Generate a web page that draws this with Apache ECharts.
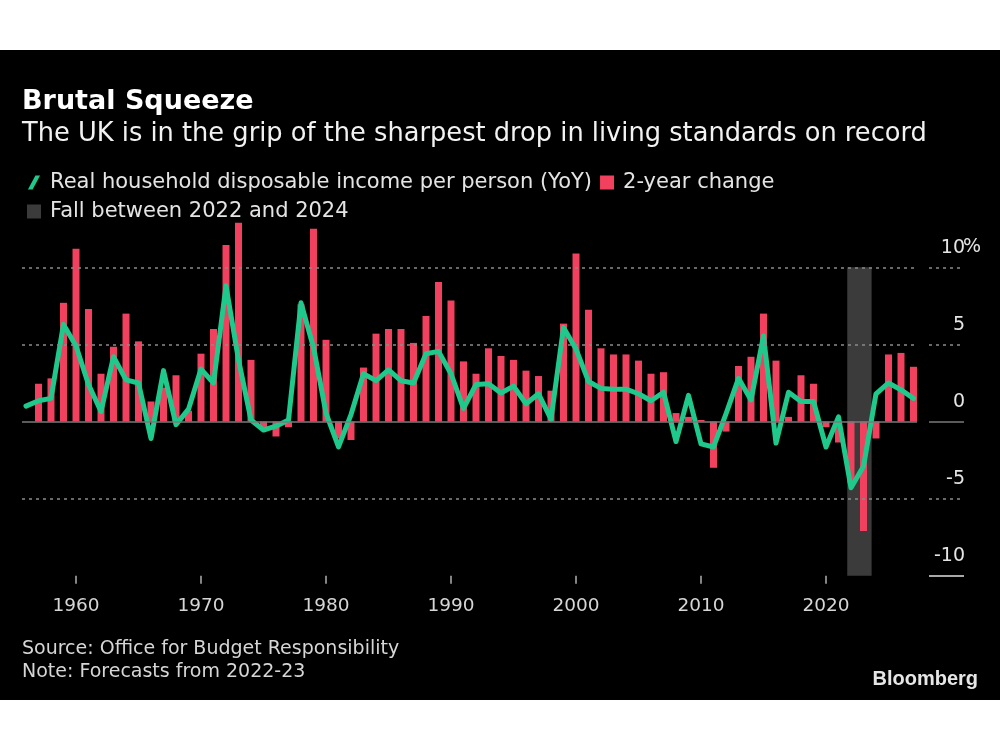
<!DOCTYPE html>
<html>
<head>
<meta charset="utf-8">
<script src="https://cdn.jsdelivr.net/npm/echarts@6/dist/echarts.min.js"></script>
<style>
html,body{margin:0;padding:0;background:#fff;}
#bg{position:absolute;left:0;top:50px;width:1000px;height:650px;background:#000;}
#chart{position:absolute;left:0;top:0;width:1000px;height:750px;}
</style>
</head>
<body>
<div id="bg"></div>
<div id="chart"></div>
<script>
// ---- data ----
const lineYears = [1956,1957,1958,1959,1960,1961,1962,1963,1964,1965,1966,1967,1968,1969,1970,1971,1972,1973,1974,1975,1976,1977,1978,1979,1980,1981,1982,1983,1984,1985,1986,1987,1988,1989,1990,1991,1992,1993,1994,1995,1996,1997,1998,1999,2000,2001,2002,2003,2004,2005,2006,2007,2008,2009,2010,2011,2012,2013,2014,2015,2016,2017,2018,2019,2020,2021,2022,2023,2024,2025,2026,2027];
const yoyValues = [1.0,1.35,1.5,6.3,4.9,2.4,0.65,4.2,2.7,2.5,-1.1,3.3,-0.2,0.8,3.4,2.5,8.8,4.0,0.1,-0.55,-0.3,0.1,7.7,4.8,0.55,-1.65,0.45,3.1,2.65,3.35,2.65,2.5,4.4,4.55,3.1,0.85,2.4,2.45,1.85,2.3,1.15,1.8,0.15,6.1,4.7,2.6,2.15,2.1,2.1,1.8,1.35,1.9,-1.3,1.7,-1.45,-1.65,0.5,2.8,1.4,5.55,-1.4,1.9,1.3,1.3,-1.65,0.3,-4.3,-2.9,1.8,2.5,2.05,1.5];
const barYears = [1957,1958,1959,1960,1961,1962,1963,1964,1965,1966,1967,1968,1969,1970,1971,1972,1973,1974,1975,1976,1977,1978,1979,1980,1981,1982,1983,1984,1985,1986,1987,1988,1989,1990,1991,1992,1993,1994,1995,1996,1997,1998,1999,2000,2001,2002,2003,2004,2005,2006,2007,2008,2009,2010,2011,2012,2013,2014,2015,2016,2017,2018,2019,2020,2021,2022,2023,2024,2025,2026,2027];
const twoYearValues = [2.45,2.8,7.7,11.2,7.3,3.1,4.85,7.0,5.2,1.3,2.2,3.0,0.7,4.4,6.0,11.45,12.9,4.0,-0.4,-0.97,-0.37,7.6,12.5,5.3,-1.1,-1.2,3.5,5.7,6.0,6.0,5.1,6.85,9.05,7.85,3.9,3.1,4.75,4.25,4.0,3.3,2.95,2.0,6.35,10.9,7.25,4.75,4.35,4.35,3.95,3.1,3.2,0.55,0.3,0.1,-3.0,-0.65,3.6,4.2,7.0,3.95,0.3,3.0,2.45,-0.37,-1.36,-4.0,-7.1,-1.1,4.35,4.45,3.55];
const xTickYears = [1960,1970,1980,1990,2000,2010,2020];
const yTickValues = [-10,-5,0,5,10];
const bandRange = [2021.7, 2023.65];
const bandValueRange = [-10, 10];

// ---- layout / axis extents ----
const X_MIN = 1955.68, PLOT_END = 2027.28, LABEL_START = 2028.24, X_MAX = 2031.04;
const FONT = '"DejaVu Sans", "Noto Sans", sans-serif';
const GREEN = '#1fc98c', RED = '#f2415f', BAND = '#3b3b3b';

const lineData = lineYears.map((y, i) => [y, yoyValues[i]]);
const barData = barYears.map((y, i) => [y, twoYearValues[i]]);

function seg(x1, x2, y, style) {
  return [{coord: [x1, y], lineStyle: style}, {coord: [x2, y]}];
}
const dashed = {color: '#8a8a8a', width: 1.5, type: [3, 4]};
const zeroStyle = {color: '#7a7a7a', width: 1.5, type: 'solid'};
const gridLines = [];
yTickValues.forEach(v => {
  if (v === -10) {
    gridLines.push(seg(LABEL_START, X_MAX, v, {color: '#e0e0e0', width: 1.5, type: 'solid'}));
  } else {
    const st = v === 0 ? zeroStyle : dashed;
    gridLines.push(seg(X_MIN, PLOT_END, v, st));
    gridLines.push(seg(LABEL_START, X_MAX, v, st));
  }
});

const chart = echarts.init(document.getElementById('chart'), null, {renderer: 'canvas'});
chart.setOption({
  backgroundColor: 'transparent',
  animation: false,
  textStyle: {fontFamily: FONT},
  title: [
    {text: 'Brutal Squeeze', left: 22, top: 88, padding: 0,
     textStyle: {color: '#ffffff', fontSize: 27, fontWeight: 'bold', fontFamily: FONT}},
    {text: 'The UK is in the grip of the sharpest drop in living standards on record', left: 22, top: 121, padding: 0,
     textStyle: {color: '#f2f2f2', fontSize: 25.7, fontWeight: 'normal', fontFamily: FONT}},
    {text: 'Source: Office for Budget Responsibility\nNote: Forecasts from 2022-23', left: 22, top: 638, padding: 0,
     textStyle: {color: '#d6d6d6', fontSize: 19, lineHeight: 23, fontWeight: 'normal', fontFamily: FONT}},
    {text: 'Bloomberg', right: 22, top: 669, padding: 0,
     textStyle: {color: '#e6e6e6', fontSize: 20, fontWeight: 'bold', fontFamily: '"Liberation Sans", Arial, sans-serif'}}
  ],
  legend: {
    left: 22, top: 167, width: 840,
    itemWidth: 14, itemHeight: 14, itemGap: 8,
    selectedMode: false,
    textStyle: {color: '#e4e4e4', fontSize: 21, fontFamily: FONT, padding: [0, 3, 0, 4]},
    data: [
      {name: 'Real household disposable income per person (YoY)', icon: 'path://M0,15 L5,15 L13,0 L8,0 Z'},
      {name: '2-year change', icon: 'rect'},
      {name: 'Fall between 2022 and 2024', icon: 'rect'}
    ]
  },
  grid: {left: 22, right: 36, top: 221.1, bottom: 174.3, containLabel: false},
  xAxis: {
    type: 'value', min: X_MIN, max: X_MAX,
    axisLine: {show: false, onZero: false},
    splitLine: {show: false},
    axisTick: {show: true, length: 8, lineStyle: {color: '#b0b0b0', width: 1.5}, customValues: xTickYears},
    axisLabel: {show: true, color: '#d6d6d6', fontSize: 18.5, margin: 21, fontFamily: FONT, customValues: xTickYears,
      formatter: v => String(v)}
  },
  yAxis: {
    type: 'value', min: -10, max: 13, position: 'right',
    axisLine: {show: false}, axisTick: {show: false}, splitLine: {show: false},
    axisLabel: {show: true, customValues: yTickValues, color: '#e4e4e4', fontSize: 19, fontFamily: FONT,
      align: 'right', verticalAlign: 'bottom', margin: 1, padding: [0, 0, 10, 0],
      formatter: v => String(v)}
  },
  graphic: [
    {type: 'text', left: 963, top: 238, style: {text: '%', fill: '#e4e4e4', font: '19px "DejaVu Sans", sans-serif'}}
  ],
  series: [
    {
      name: 'Fall between 2022 and 2024', type: 'line', data: [], z: 1,
      color: BAND, itemStyle: {color: BAND},
      markArea: {silent: true, itemStyle: {color: BAND},
        data: [[{coord: [bandRange[0], bandValueRange[1]]}, {coord: [bandRange[1], bandValueRange[0]]}]]}
    },
    {
      name: 'gridlines', type: 'line', data: [], z: 2, silent: true,
      markLine: {silent: true, symbol: ['none', 'none'], label: {show: false}, data: gridLines}
    },
    {
      name: '2-year change', type: 'bar', data: barData, z: 3,
      barWidth: 7, itemStyle: {color: RED}, color: RED
    },
    {
      name: 'Real household disposable income per person (YoY)', type: 'line', data: lineData, z: 4,
      showSymbol: false, symbol: 'none', color: GREEN,
      itemStyle: {color: GREEN},
      lineStyle: {color: GREEN, width: 5, join: 'round', cap: 'round'}
    }
  ]
});
</script>
</body>
</html>
